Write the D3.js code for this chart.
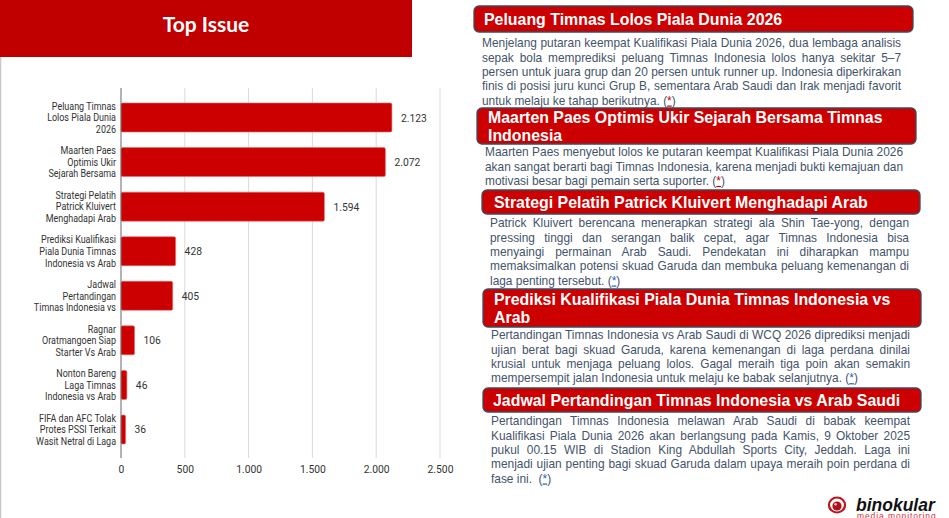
<!DOCTYPE html>
<html>
<head>
<meta charset="utf-8">
<script src="https://cdn.jsdelivr.net/npm/d3@7/dist/d3.min.js"></script>
<style>
  html, body { margin: 0; padding: 0; background: #fff; }
  svg { display: block; font-family: "Liberation Sans", Arial, sans-serif; }
</style>
</head>
<body>
<svg id="page" width="949" height="518"></svg>
<script>
// chart data
const categories = [
  ["Peluang Timnas", "Lolos Piala Dunia", "2026"],
  ["Maarten Paes", "Optimis Ukir", "Sejarah Bersama"],
  ["Strategi Pelatih", "Patrick Kluivert", "Menghadapi Arab"],
  ["Prediksi Kualifikasi", "Piala Dunia Timnas", "Indonesia vs Arab"],
  ["Jadwal", "Pertandingan", "Timnas Indonesia vs"],
  ["Ragnar", "Oratmangoen Siap", "Starter Vs Arab"],
  ["Nonton Bareng", "Laga Timnas", "Indonesia vs Arab"],
  ["FIFA dan AFC Tolak", "Protes PSSI Terkait", "Wasit Netral di Laga"]
]
const values = [2123, 2072, 1594, 428, 405, 106, 46, 36]
const tickValues = [0, 500, 1000, 1500, 2000, 2500]

// side stories
const storyTitles = [
  ["Peluang Timnas Lolos Piala Dunia 2026"],
  ["Maarten Paes Optimis Ukir Sejarah Bersama Timnas", "Indonesia"],
  ["Strategi Pelatih Patrick Kluivert Menghadapi Arab"],
  ["Prediksi Kualifikasi Piala Dunia Timnas Indonesia vs", "Arab"],
  ["Jadwal Pertandingan Timnas Indonesia vs Arab Saudi"]
]
const storyBodies = [
  ["Menjelang putaran keempat Kualifikasi Piala Dunia 2026, dua lembaga analisis",
   "sepak bola memprediksi peluang Timnas Indonesia lolos hanya sekitar 5–7",
   "persen untuk juara grup dan 20 persen untuk runner up. Indonesia diperkirakan",
   "finis di posisi juru kunci Grup B, sementara Arab Saudi dan Irak menjadi favorit",
   "untuk melaju ke tahap berikutnya. (*)"],
  ["Maarten Paes menyebut lolos ke putaran keempat Kualifikasi Piala Dunia 2026",
   "akan sangat berarti bagi Timnas Indonesia, karena menjadi bukti kemajuan dan",
   "motivasi besar bagi pemain serta suporter. (*)"],
  ["Patrick Kluivert berencana menerapkan strategi ala Shin Tae-yong, dengan",
   "pressing tinggi dan serangan balik cepat, agar Timnas Indonesia bisa",
   "menyaingi permainan Arab Saudi. Pendekatan ini diharapkan mampu",
   "memaksimalkan potensi skuad Garuda dan membuka peluang kemenangan di",
   "laga penting tersebut. (*)"],
  ["Pertandingan Timnas Indonesia vs Arab Saudi di WCQ 2026 diprediksi menjadi",
   "ujian berat bagi skuad Garuda, karena kemenangan di laga perdana dinilai",
   "krusial untuk menjaga peluang lolos. Gagal meraih tiga poin akan semakin",
   "mempersempit jalan Indonesia untuk melaju ke babak selanjutnya. (*)"],
  ["Pertandingan Timnas Indonesia melawan Arab Saudi di babak keempat",
   "Kualifikasi Piala Dunia 2026 akan berlangsung pada Kamis, 9 Oktober 2025",
   "pukul 00.15 WIB di Stadion King Abdullah Sports City, Jeddah. Laga ini",
   "menjadi ujian penting bagi skuad Garuda dalam upaya meraih poin perdana di",
   "fase ini.  (*)"]
]
const starColors = ["#c00000", "#c00000", "#1f5fbf", "#1f5fbf", "#1f5fbf"]

// layout of the story boxes and their body text
const boxLayout = [
  {x: 474, y: 6, h: 26, w: 439, tx: 484, by: 43, bx: 482, bw: 419},
  {x: 477, y: 108, h: 36, w: 439, tx: 488, by: 152, bx: 485, bw: 418},
  {x: 482, y: 190, h: 24, w: 438, tx: 494, by: 223, bx: 490, bw: 419},
  {x: 483, y: 289, h: 38, w: 438, tx: 494, by: 335, bx: 491, bw: 419},
  {x: 483, y: 388, h: 24, w: 438, tx: 493, by: 421, bx: 491, bw: 419}
]

const red = "#c00000"
const chartFont = "Roboto, 'Liberation Sans', sans-serif"
const svg = d3.select("#page")
const fmt = d3.formatLocale({decimal: ",", thousands: ".", grouping: [3], currency: ["", ""]}).format(",d")

// left panel
svg.append("line").attr("x1", 0.5).attr("x2", 0.5).attr("y1", 57).attr("y2", 518)
  .attr("stroke", "#c8c8c8").attr("stroke-width", 1.5)
svg.append("rect").attr("x", 0).attr("y", 0).attr("width", 412).attr("height", 57).attr("fill", red)
svg.append("text").attr("x", 206).attr("y", 32).attr("text-anchor", "middle")
  .attr("fill", "#fff").attr("font-size", 21).attr("font-weight", "bold")
  .style("font-family", "Lato, 'Open Sans', sans-serif")
  .text("Top Issue")

const x = d3.scaleLinear().domain([0, 2500]).range([121, 440])
const y = d3.scaleBand().domain(d3.range(values.length)).range([95, 452]).paddingInner(0.35).paddingOuter(0.18)

const chart = svg.append("g").style("font-family", chartFont)

chart.selectAll(".grid")
  .data(tickValues.slice(1))
  .join("line")
  .attr("class", "grid")
  .attr("x1", d => x(d)).attr("x2", d => x(d))
  .attr("y1", 88).attr("y2", 458)
  .attr("stroke", "#d9d9d9").attr("stroke-width", 1)

const xAxis = chart.append("g")
  .attr("transform", "translate(0,458)")
  .call(d3.axisBottom(x).tickValues(tickValues).tickFormat(fmt).tickSize(0).tickPadding(8))
xAxis.select(".domain").remove()
xAxis.selectAll("text").attr("font-size", 10.3).attr("fill", "#333")
  .style("font-family", chartFont)

chart.selectAll(".bar")
  .data(values)
  .join("rect")
  .attr("class", "bar")
  .attr("x", x(0))
  .attr("y", (d, i) => y(i))
  .attr("width", d => x(d) - x(0))
  .attr("height", y.bandwidth())
  .attr("rx", 1.5)
  .attr("fill", "#cc0000")
  .attr("stroke", "#e46a6a").attr("stroke-width", 0.6)

chart.append("line").attr("x1", x(0)).attr("x2", x(0)).attr("y1", 88).attr("y2", 458)
  .attr("stroke", "#666").attr("stroke-width", 1)

chart.selectAll(".val")
  .data(values)
  .join("text")
  .attr("class", "val")
  .attr("x", d => x(d) + 9)
  .attr("y", (d, i) => y(i) + y.bandwidth() / 2 + 4)
  .attr("font-size", 10.3).attr("fill", "#333")
  .text(d => fmt(d))

// the original labels use a narrow face: squeeze horizontally so the widest line is ~80px
const catSize = 10.5
const probe = chart.append("text").attr("font-size", catSize).text("Wasit Netral di Laga")
const squeeze = Math.min(1, 80 / probe.node().getComputedTextLength())
probe.remove()

chart.selectAll(".cat")
  .data(categories)
  .join("text")
  .attr("class", "cat")
  .attr("text-anchor", "end")
  .attr("transform", `translate(116,0) scale(${squeeze},1)`)
  .attr("font-size", catSize).attr("fill", "#333")
  .each(function (lines, i) {
    const cy = y(i) + y.bandwidth() / 2
    d3.select(this).selectAll("tspan")
      .data(lines)
      .join("tspan")
      .attr("x", 0)
      .attr("y", (d, j) => cy + (j - 1) * 11.6 + 3.8)
      .text(d => d)
  })

// story boxes
const bodyColor = "#44546a"
const bodySize = 11.9
const lineH = 14.3

function writeLine(g, str, xx, yy, width, justify, starColor) {
  const hasStar = str.endsWith("(*)")
  const main = hasStar ? str.slice(0, -3) : str
  const t = g.append("text").attr("x", xx).attr("y", yy)
    .attr("font-size", bodySize).attr("fill", bodyColor)
    .style("white-space", "pre")
  t.append("tspan").text(main)
  if (hasStar) {
    t.append("tspan").text("(")
    t.append("tspan").attr("fill", starColor).attr("text-decoration", "underline").text("*")
    t.append("tspan").text(")")
  }
  if (justify) {
    const spaces = (main.match(/ /g) || []).length
    const len = t.node().getComputedTextLength()
    if (spaces > 0) t.attr("word-spacing", (width - len) / spaces)
  }
}

storyTitles.forEach((title, i) => {
  const L = boxLayout[i]
  const g = svg.append("g")
  g.append("rect").attr("x", L.x).attr("y", L.y).attr("width", L.w).attr("height", L.h)
    .attr("rx", 5).attr("fill", "#cc0000")
    .attr("stroke", "#3d4b5c").attr("stroke-width", 1.3)
  const lh = title.length > 1 ? 18.5 : 0
  const cy0 = L.y + L.h / 2 - lh * (title.length - 1) / 2
  title.forEach((line, j) => {
    g.append("text").attr("x", L.tx).attr("y", cy0 + j * lh + 6)
      .attr("font-size", 15.9).attr("font-weight", "bold").attr("fill", "#fff")
      .text(line)
  })
  const body = storyBodies[i]
  body.forEach((line, j) => {
    writeLine(g, line, L.bx, L.by + j * lineH + 4.3, L.bw, j < body.length - 1, starColors[i])
  })
})

// logo
const logo = svg.append("g")
logo.append("ellipse").attr("cx", 837).attr("cy", 505).attr("rx", 8).attr("ry", 7.5)
  .attr("fill", "none").attr("stroke", "#c0141c").attr("stroke-width", 2.2)
logo.append("circle").attr("cx", 837).attr("cy", 506).attr("r", 4.6).attr("fill", "#b01018")
logo.append("circle").attr("cx", 835.6).attr("cy", 504.3).attr("r", 1.4).attr("fill", "#f3b3b3")
logo.append("text").attr("x", 856).attr("y", 510.5)
  .attr("font-size", 17.5).attr("font-weight", "bold").attr("font-style", "italic")
  .attr("fill", "#111").text("binokular")
logo.append("text").attr("x", 857).attr("y", 518.5)
  .attr("font-size", 8.5).attr("fill", "#d03030").attr("letter-spacing", 0.9)
  .text("media monitoring")
</script>
</body>
</html>
